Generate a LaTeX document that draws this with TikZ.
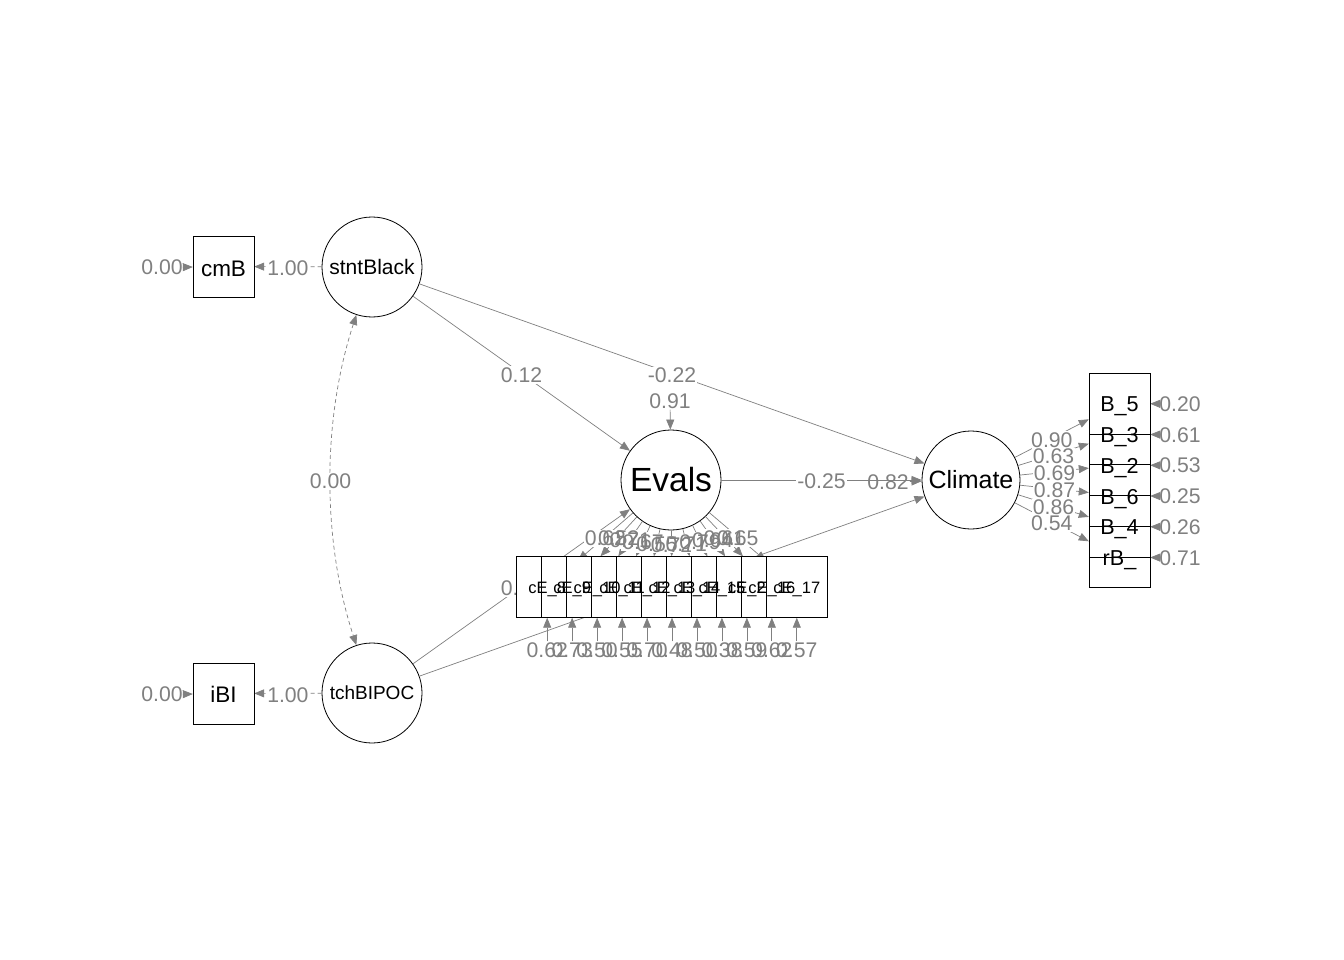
\documentclass[tikz,border=0pt]{standalone}
\usepackage{fontspec}
\setmainfont{Liberation Sans}
\usetikzlibrary{arrows.meta}
\definecolor{eg}{HTML}{808080}
\begin{document}
\begin{tikzpicture}[x=1pt,y=-1pt,
  >={Triangle[length=10pt,width=8pt]},
  lat/.style={circle,draw=black,line width=0.8pt,minimum size=100pt,inner sep=0pt},
  mani/.style={rectangle,minimum width=61pt,minimum height=61pt,inner sep=0pt},
  maniv/.style={mani,draw=black,fill=white,line width=0.8pt},
  edge/.style={draw=eg,line width=0.7pt,->},
  fixed/.style={edge,dash pattern=on 4pt off 3pt},
  cov/.style={draw=eg,line width=0.7pt,<->,dash pattern=on 4pt off 3pt},
  labf/.style={font=\fontsize{21.2}{23}\selectfont,text=eg,inner sep=1pt},
  labbg/.style={labf,fill=white,text opacity=0},
  labtx/.style={labf},
  mtext/.style={font=\fontsize{21.6}{23}\selectfont,text=black,inner sep=0pt},
  etext/.style={font=\fontsize{16.5}{18}\selectfont,text=black,inner sep=0pt}]
\useasboundingbox (0,0) rectangle (1344,960);
\fill[white] (0,0) rectangle (1344,960);

% latent variables
\node[lat,font=\fontsize{21}{23}\selectfont] (sB) at (372,267) {stntBlack};
\node[lat,font=\fontsize{19}{21}\selectfont] (tB) at (372,693) {tchBIPOC};
\node[lat,font=\fontsize{33.5}{36}\selectfont] (Ev) at (671,480) {Evals};
\node[lat,minimum size=98pt,font=\fontsize{25}{27}\selectfont] (Cl) at (971,480) {Climate};

% manifest anchors (invisible)
\node[mani] (cmB) at (223.5,266.5) {};
\node[mani] (iBI) at (223.5,693.5) {};
\foreach \i in {1,...,11} \node[mani] (e\i) at ({547.2+24.96*(\i-1)},587) {};
\foreach \j in {1,...,6} \node[mani] (b\j) at (1119.5,{403.5+30.75*(\j-1)}) {};

% structural and fixed edges
\draw[fixed] (sB) -- (cmB) coordinate[pos=0.5] (l-sc);
\draw[fixed] (tB) -- (iBI) coordinate[pos=0.5] (l-ti);
\draw[cov] (sB) .. controls (322,420) and (322,540) .. (tB) coordinate[pos=0.5] (l-cv);
\draw[edge] (sB) -- (Ev) coordinate[pos=0.5] (l-se);
\draw[edge] (sB) -- (Cl) coordinate[pos=0.5] (l-scl);
\draw[edge] (Ev) -- (Cl) coordinate[pos=0.5] (l-ec);
\draw[edge] (tB) -- (Ev) coordinate[pos=0.5] (l-te);
\draw[edge] (tB) -- (Cl);

% loadings
\foreach \i in {1,...,11} \draw[edge] (Ev) -- (e\i) coordinate[pos=0.5] (l-e\i);
\foreach \j in {1,...,6} \draw[edge] (Cl) -- (b\j) coordinate[pos=0.5] (l-b\j);

% residuals
\node[labtx] (rcmB) at (162,267.5) {0.00};
\draw[edge] (rcmB) -- (cmB);
\node[labtx] (riBI) at (162,694.5) {0.00};
\draw[edge] (riBI) -- (iBI);
\node[labtx] (rEv) at (670,401) {0.91};
\draw[edge] (rEv) -- (Ev);
\node[labtx] (rCl) at (888,482) {0.82};
\draw[edge] (rCl) -- (Cl);
\foreach \i/\v in {1/0.62,2/0.73,3/0.50,4/0.55,5/0.70,6/0.48,7/0.50,8/0.38,9/0.59,10/0.62,11/0.57}{
  \node[labtx] (re\i) at ({547.2+24.96*(\i-1)},650) {\v};
  \draw[edge] (re\i) -- (e\i);
}
\foreach \j/\v in {1/0.20,2/0.61,3/0.53,4/0.25,5/0.26,6/0.71}{
  \node[labtx] (rb\j) at (1180,{404+30.75*(\j-1)}) {\v};
  \draw[edge] (rb\j) -- (b\j);
}

% edge label backgrounds, then texts
\foreach \c/\t in {l-sc/1.00,l-ti/1.00,l-cv/0.00,l-se/0.12,l-scl/-0.22,l-ec/-0.25,l-te/0.27,
  l-e1/0.62,l-e2/0.52,l-e3/0.71,l-e4/0.67,l-e5/0.55,l-e6/0.72,l-e7/0.71,l-e8/0.79,l-e9/0.64,l-e10/0.61,l-e11/0.65,
  l-b1/0.90,l-b2/0.63,l-b3/0.69,l-b4/0.87,l-b5/0.86,l-b6/0.54}
  \node[labbg] (bg\c) at ([yshift=-1.5pt]\c) {\t};
\foreach \c/\t in {l-sc/1.00,l-ti/1.00,l-cv/0.00,l-se/0.12,l-scl/-0.22,l-ec/-0.25,l-te/0.27,
  l-e1/0.62,l-e2/0.52,l-e3/0.71,l-e4/0.67,l-e5/0.55,l-e6/0.72,l-e7/0.71,l-e8/0.79,l-e9/0.64,l-e10/0.61,l-e11/0.65,
  l-b1/0.90,l-b2/0.63,l-b3/0.69,l-b4/0.87,l-b5/0.86,l-b6/0.54}
  \node[labtx] (tx\c) at ([yshift=-1.5pt]\c) {\t};

% visible boxes
\node[maniv] (cmBv) at (cmB) {};
\node[maniv] (iBIv) at (iBI) {};
\foreach \i in {1,...,11} \node[maniv] (ev\i) at (e\i) {};
\foreach \j in {6,5,...,1} \node[maniv] (bv\j) at (b\j) {};

% box texts
\node[mtext,font=\fontsize{22.5}{24}\selectfont] (cmBt) at ([yshift=-2pt]cmB) {cmB};
\node[mtext,font=\fontsize{22.5}{24}\selectfont] (iBIt) at ([yshift=-1pt]iBI) {iBI};
\foreach \i/\t in {1/cE\_8,2/cE\_9,3/cE\_10,4/cE\_11,5/cE\_12,6/cE\_13,7/cE\_14,8/cE\_15,9/cE\_2,10/cE\_16,11/cE\_17}
  \node[etext] (et\i) at ([yshift=-2pt]e\i) {\t};
\foreach \j/\t in {1/B\_5,2/B\_3,3/B\_2,4/B\_6,5/B\_4,6/rB\_}
  \node[mtext] (bt\j) at ([yshift=-3pt]b\j) {\t};
\end{tikzpicture}
\end{document}
